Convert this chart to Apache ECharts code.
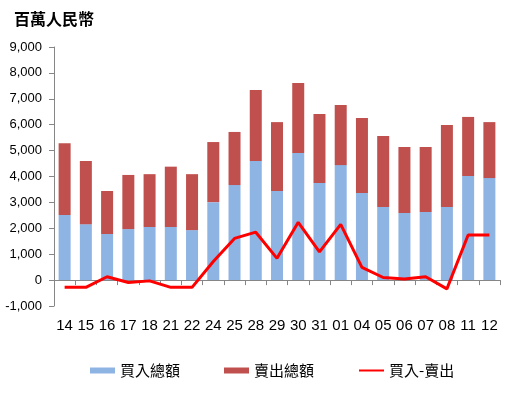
<!DOCTYPE html>
<html>
<head>
<meta charset="utf-8">
<script src="https://cdn.jsdelivr.net/npm/echarts@6/dist/echarts.min.js"></script>
<style>html,body{margin:0;padding:0;background:#fff}#c{width:516px;height:396px}</style>
</head>
<body>
<div id="c"></div>
<script>
var categories = ['14','15','16','17','18','21','22','24','25','28','29','30','31','01','04','05','06','07','08','11','12'];
var buyTotal = [2510,2160,1780,1970,2050,2050,1930,3010,3670,4600,3440,4910,3750,4440,3360,2820,2590,2630,2820,4020,3940];
var sellTotal = [2770,2440,1660,2090,2040,2330,2160,2320,2050,2740,2660,2700,2660,2320,2900,2740,2550,2510,3170,2280,2160];
var netFlow = [-280,-280,130,-90,-30,-280,-280,720,1610,1850,840,2230,1090,2150,490,100,40,130,-340,1740,1740];
var seriesNames = ['買入總額','賣出總額','買入-賣出'];
var unitTitle = '百萬人民幣';

var chart = echarts.init(document.getElementById('c'), null, {renderer:'canvas'});
var axisColor = '#868686';
chart.setOption({
  animation: false,
  title: {
    text: unitTitle, left: 9, top: 6,
    textStyle: {fontFamily: '"Noto Sans CJK TC"', fontSize: 16, fontWeight: 'bold', color: '#000'}
  },
  legend: {
    left: 85, top: 358, itemWidth: 25, itemHeight: 6, itemGap: 44,
    textStyle: {fontFamily: '"Noto Sans CJK TC"', fontSize: 15, color: '#000', padding: [0,0,0,0]},
    data: [
      {name: seriesNames[0], icon: 'rect'},
      {name: seriesNames[1], icon: 'rect'},
      {name: seriesNames[2], itemStyle: {opacity: 0}}
    ]
  },
  grid: {left: 54, right: 16, top: 47, bottom: 90},
  xAxis: [
    {
      type: 'category', data: categories,
      axisLine: {onZero: true, lineStyle: {color: axisColor, width: 1}},
      axisTick: {show: true, length: 5, lineStyle: {color: axisColor}},
      axisLabel: {show: false}
    },
    {
      type: 'category', data: categories, position: 'bottom',
      axisLine: {show: false, onZero: false}, axisTick: {show: false},
      axisLabel: {interval: 0, margin: 12, fontFamily: '"Liberation Sans"', fontSize: 15, color: '#000'}
    }
  ],
  yAxis: {
    type: 'value', min: -1000, max: 9000, interval: 1000,
    splitLine: {show: false},
    axisLine: {show: true, lineStyle: {color: axisColor}},
    axisTick: {show: true, length: 5, lineStyle: {color: axisColor}},
    axisLabel: {
      margin: 12, fontFamily: '"Liberation Sans"', fontSize: 13, color: '#000',
      formatter: function (v) { return v.toLocaleString('en-US'); }
    }
  },
  series: [
    {name: seriesNames[0], type: 'bar', stack: 's', data: buyTotal, barWidth: 12, itemStyle: {color: '#8EB4E3'}},
    {name: seriesNames[1], type: 'bar', stack: 's', data: sellTotal, barWidth: 12, itemStyle: {color: '#C0504D'}},
    {name: seriesNames[2], type: 'line', data: netFlow, symbol: 'none', lineStyle: {color: '#FF0000', width: 3}, itemStyle: {color: '#FF0000'}, z: 5}
  ]
});
</script>
</body>
</html>
